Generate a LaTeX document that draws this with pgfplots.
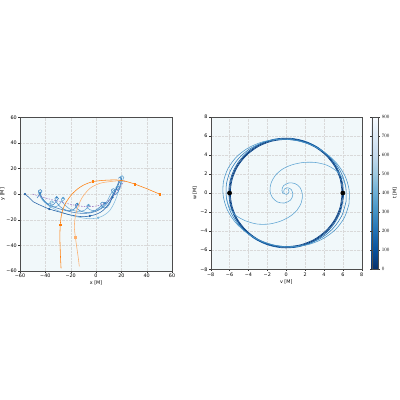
\documentclass[border=0pt]{standalone}
\usepackage{fontspec}
\setmainfont{DejaVu Sans}
\usepackage{pgfplots}
\pgfplotsset{compat=1.18}
\definecolor{bgc}{HTML}{F1F8FA}
\definecolor{bA}{HTML}{2563A8}
\definecolor{bB}{HTML}{3B84C2}
\definecolor{bC}{HTML}{7AB5DC}
\definecolor{bD}{HTML}{5B9FD0}
\definecolor{bE}{HTML}{2F70B5}
\definecolor{pur}{HTML}{9467BD}
\definecolor{orA}{HTML}{FF7F0E}
\definecolor{orB}{HTML}{FDAE6B}
\definecolor{cA}{HTML}{08306B}
\definecolor{cB}{HTML}{08468C}
\definecolor{cC}{HTML}{0E59A2}
\definecolor{cD}{HTML}{2B7BBA}
\definecolor{cE}{HTML}{4A95C9}
\definecolor{cF}{HTML}{5EA5D3}

\pgfplotsset{
  mpl/.style={
    scale only axis,
    axis background/.style={fill=bgc},
    grid=major,
    grid style={gray!30, dash pattern=on 1.5pt off 1.5pt, line width=0.6pt},
    tick align=outside,
    major tick length=3.5pt,
    tick style={black!80, line width=0.6pt},
    axis line style={black!70, line width=0.6pt},
    tick label style={font=\fontsize{10.5}{12}\selectfont},
    label style={font=\fontsize{10.5}{12}\selectfont},
    xtick pos=bottom, ytick pos=left,
    every axis plot/.append style={line width=1.2pt},
  },
  colormap={bluesr}{rgb255=(8,48,107) rgb255=(8,81,156) rgb255=(33,113,181)
    rgb255=(66,146,198) rgb255=(107,174,214) rgb255=(158,202,225)
    rgb255=(198,219,239) rgb255=(222,235,247) rgb255=(247,251,255)},
}

\begin{document}
\begin{tikzpicture}
\path[use as bounding box] (0,0) rectangle (864pt,864pt);

% left panel: positions
\begin{axis}[mpl,
  at={(43.2pt,278.6pt)}, anchor=south west,
  width=328.5pt, height=332pt,
  xmin=-60, xmax=60, ymin=-60, ymax=60,
  xtick={-60,-40,...,60}, ytick={-60,-40,...,60},
  xticklabels={−60,−40,−20,0,20,40,60},
  yticklabels={−60,−40,−20,0,20,40,60},
  xlabel={x [M]}, ylabel={y [M]}, ylabel shift=-3.5pt,
]
\addplot[bC, opacity=0.9, smooth] coordinates {
  (-45.5,2.5) (-44.5,-1) (-42,-5) (-38,-8.5) (-33,-11.5) (-26,-14.5) (-19,-16.8)
  (-12,-18.3) (-5,-19.2) (1.7,-18.4) (7,-16) (11,-12.5) (14,-7.5) (16.5,-1.5)
  (18.5,5) (20,11) (20.5,15)};
\addplot[bC, only marks, mark=*, mark size=1.8pt] coordinates {(1.7,-18.4) (-36,-9.8)};
\addplot[bE, opacity=0.9, smooth] coordinates {
  (-44,0.5) (-42,-4) (-38,-8) (-32,-10.5) (-25,-12.5) (-18,-14.2) (-11,-15)
  (-4,-14.5) (2,-12.5) (7,-9) (11,-4) (14,1) (16.5,6) (18,10.5)};
\addplot[bD, opacity=0.9, smooth] coordinates {
  (-45,2) (-44,-1.5) (-41.5,-5) (-38,-7.5) (-35.5,-7) (-33.6,-6.3) (-35,-5.2)
  (-36.4,-6.2) (-35.8,-8) (-33,-9.8) (-30,-9) (-27.5,-6) (-24.6,-3.9) (-26,-2.8)
  (-27.4,-3.8) (-26.9,-5.6) (-24,-9) (-20,-12) (-14,-13.5) (-9,-12.5) (-6.5,-10.2)
  (-4.6,-9.3) (-6,-8.2) (-7.4,-9.2) (-6.8,-10.8) (-3,-12.8) (2,-12) (6,-9)
  (9,-5) (11.5,0) (14,3) (16,3.3) (18.4,5.2) (17,6.3) (15.6,5.3) (16.2,3.7)
  (18.5,3.5) (20.2,9) (21.9,13.2) (20.5,14.4) (19.1,13.4) (19.6,11.5)};
\addplot[bD, only marks, mark=*, mark size=1.8pt] coordinates {(-26,-3) (-6,-8.5) (17,6)};
\addplot[bB, opacity=0.95, smooth] coordinates {
  (-46.5,-3) (-44.5,0) (-42.6,2.5) (-44,3.6) (-45.4,2.6) (-45,0.6) (-43,-2)
  (-40.5,-5.5) (-37,-8.5) (-33.5,-8) (-31.5,-5.5) (-29.6,-3.3) (-31,-2.2)
  (-32.4,-3.2) (-32,-5) (-29.5,-8.5) (-26,-11.5) (-21,-13) (-17,-11.5)
  (-15.3,-9.5) (-13.6,-8.3) (-15,-7.2) (-16.4,-8.2) (-16,-10) (-13,-12.8)
  (-8,-14.3) (-2,-13.5) (2.5,-10.5) (6.4,-7.3) (5,-6.2) (3.6,-7.2) (4.2,-9)
  (6.5,-10.8) (9,-10) (11.5,-6) (13,-1) (14.9,3.2) (13.5,4.3) (12.1,3.3)
  (12.6,1.6) (15,-0.5) (17.5,2) (19,7) (20.3,12.2) (19,13.4) (17.7,12.3)};
\addplot[bB, only marks, mark=*, mark size=1.8pt] coordinates {(-44,1) (-31,-2.5) (-14.7,-7.6) (7,-7)};
\addplot[bA, smooth] coordinates {
  (-56.1,0.1) (-53,-2.5) (-49.5,-5.9) (-44,-8.6) (-36.9,-11.6) (-30,-13.6)
  (-23.2,-15.5) (-16,-17) (-10,-17.6) (-4.9,-17.0) (0,-15.8) (3,-14.4) (6,-12.3)
  (8.3,-9.8) (11,-6) (13,-2.5) (15,1.5) (16.5,5) (18,8.5) (20,12)};
\addplot[bA, only marks, mark=*, mark size=1.8pt] coordinates {(-56.1,0.1) (-36.9,-11.6) (-4.9,-17.0) (13,-2.5)};
\addplot[pur, opacity=0.9, dashed, smooth] coordinates {
  (-50,0) (-45,-1.5) (-40,-3) (-34,-4.5) (-28,-6) (-22,-7.5) (-16,-8.8)
  (-10,-9.6) (-5,-9.8) (0,-9.3) (5,-8) (10,-5) (14,-1) (17,3) (20,7) (23,11)};
\addplot[orB, smooth] coordinates {
  (23,10.3) (17,10.4) (11,9.8) (3.2,8.5) (-4.7,4.6) (-11.3,-3.2) (-15.8,-14.8)
  (-17.1,-25.2) (-16.3,-33.5) (-15.3,-40.8) (-14,-49.9) (-13.2,-56.4)};
\addplot[orB, only marks, mark=square*, mark size=1.8pt] coordinates {(-16.3,-33.5)};
\addplot[orA, smooth] coordinates {
  (50.3,0) (45,2.2) (40,4.3) (35,6.2) (30.6,7.9) (25,9.6) (20,10.7) (16,11.1)
  (10,11) (5,10.7) (0,10.2) (-2.5,9.8) (-6,8.7) (-10,7) (-14,4.5) (-18,1)
  (-21,-2.5) (-24,-7) (-26.3,-12.3) (-27.6,-18) (-28.2,-24) (-28.5,-30)
  (-28.5,-36) (-28.3,-42) (-28,-50) (-27.6,-58)};
\addplot[orA, only marks, mark=square*, mark size=1.8pt] coordinates {(50.3,0) (30.6,7.9) (-2.5,9.8) (-28.2,-24)};
\end{axis}

% right panel: v-w plane, coloured by time
\begin{axis}[mpl,
  at={(455.1pt,282.3pt)}, anchor=south west,
  width=326.2pt, height=329.6pt,
  xmin=-8, xmax=8, ymin=-8, ymax=8,
  xtick={-8,-6,...,8}, ytick={-8,-6,...,8},
  xticklabels={−8,−6,−4,−2,0,2,4,6,8},
  yticklabels={−8,−6,−4,−2,0,2,4,6,8},
  xlabel={v [M]}, ylabel={w [M]},
  colormap name=bluesr, point meta min=0, point meta max=800,
  colorbar,
  colorbar style={at={(1.066,1)}, anchor=north west, width=15pt,
    ytick={0,100,...,800}, ylabel={t [M]},
    tick align=outside, major tick length=3.5pt,
    tick style={black!80, line width=0.6pt},
    axis line style={black!70, line width=0.6pt},
    tick label style={font=\fontsize{10.5}{12}\selectfont},
    label style={font=\fontsize{10.5}{12}\selectfont}},
]
\addplot[cA, line width=1.5pt, smooth] coordinates {
  (6,0) (5.80,1.48) (5.20,2.85) (4.24,4.03) (3.00,4.94) (1.55,5.51) (0,5.70)
  (-1.55,5.51) (-3.00,4.94) (-4.24,4.03) (-5.20,2.85) (-5.80,1.48) (-6,0)
  (-5.80,-1.48) (-5.20,-2.85) (-4.24,-4.03) (-3.00,-4.94) (-1.55,-5.51) (0,-5.70)
  (1.55,-5.51) (3.00,-4.94) (4.24,-4.03) (5.20,-2.85) (5.80,-1.48) (6,0)};
\addplot[cB, line width=1.5pt, smooth] coordinates {
  (5.92,0) (5.72,1.45) (5.13,2.81) (4.19,3.97) (2.96,4.87) (1.53,5.43) (0,5.62)
  (-1.53,5.43) (-2.96,4.87) (-4.19,3.97) (-5.13,2.81) (-5.72,1.45) (-5.92,0)
  (-5.72,-1.45) (-5.13,-2.81) (-4.19,-3.97) (-2.96,-4.87) (-1.53,-5.43) (0,-5.62)
  (1.53,-5.43) (2.96,-4.87) (4.19,-3.97) (5.13,-2.81) (5.72,-1.45) (5.92,0)};
\addplot[cC, line width=1.4pt, smooth] coordinates {
  (6.07,-0.42) (5.96,1.08) (5.46,2.50) (4.57,3.76) (3.38,4.77) (1.96,5.44) (0.40,5.75)
  (-1.18,5.66) (-2.68,5.19) (-4.01,4.36) (-5.06,3.24) (-5.76,1.90) (-6.07,0.42)
  (-5.96,-1.08) (-5.46,-2.50) (-4.57,-3.76) (-3.38,-4.77) (-1.96,-5.44) (-0.40,-5.75)
  (1.18,-5.66) (2.68,-5.19) (4.01,-4.36) (5.06,-3.24) (5.76,-1.90) (6.07,-0.42)};
\addplot[cD, smooth] coordinates {
  (6.34,-0.89) (6.32,0.59) (5.87,2.03) (5.04,3.33) (3.85,4.40) (2.40,5.18) (0.79,5.59)
  (-0.88,5.64) (-2.49,5.28) (-3.92,4.59) (-5.09,3.57) (-5.92,2.31) (-6.34,0.89)
  (-6.32,-0.59) (-5.87,-2.03) (-5.04,-3.33) (-3.85,-4.40) (-2.40,-5.18) (-0.79,-5.59)
  (0.88,-5.64) (2.49,-5.28) (3.92,-4.59) (5.09,-3.57) (5.92,-2.31) (6.34,-0.89)};
\addplot[cE, smooth] coordinates {
  (6.65,-1.17) (6.67,0.30) (6.25,1.74) (5.39,3.07) (4.16,4.19) (2.66,5.03) (0.97,5.52)
  (-0.78,5.63) (-2.48,5.37) (-4.01,4.73) (-5.27,3.78) (-6.17,2.56) (-6.65,1.17)
  (-6.67,-0.30) (-6.25,-1.74) (-5.39,-3.07) (-4.16,-4.19) (-2.66,-5.03) (-0.97,-5.52)
  (0.78,-5.63) (2.48,-5.37) (4.01,-4.73) (5.27,-3.78) (6.17,-2.56) (6.65,-1.17)};
\addplot[cF, smooth] coordinates {
  (6.32,0.59) (6.05,1.45) (5.4,2.25) (4.35,2.9) (3.1,3.2) (1.8,3.2) (0.6,2.95)
  (-0.4,2.5) (-1.15,1.85) (-1.6,1.05) (-1.72,0.2) (-1.45,-0.5) (-0.9,-0.95)
  (-0.2,-1.05) (0.45,-0.75) (0.7,-0.2) (0.55,0.35) (0.15,0.55) (-0.2,0.4)
  (-0.25,0.0) (0.05,-0.15) (0.3,0.1) (0.2,0.4)};
\addplot[cF, smooth] coordinates {
  (-6.32,-0.59) (-6.05,-1.45) (-5.4,-2.3) (-4.35,-2.9) (-3.1,-3.25) (-1.8,-3.25)
  (-0.6,-2.95) (0.4,-2.45) (1.15,-1.8) (1.6,-1.0) (1.72,-0.15) (1.45,0.6)
  (0.9,1.0) (0.25,1.05) (-0.3,0.75) (-0.45,0.25) (-0.3,-0.1)};
\addplot[black, only marks, mark=*, mark size=4.5pt] coordinates {(-6,0) (6,0)};
\end{axis}
\end{tikzpicture}
\end{document}
